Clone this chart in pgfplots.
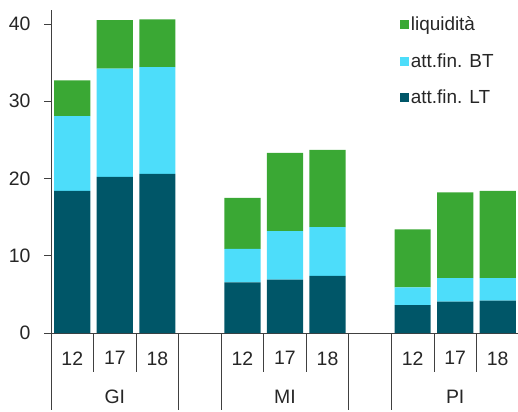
\documentclass[border=0pt]{standalone}
\usepackage{pgfplots}
\pgfplotsset{compat=1.18}
\usepackage{fontspec}
\setmainfont{Liberation Sans}
\definecolor{cLT}{RGB}{0,86,104}
\definecolor{cBT}{RGB}{77,221,250}
\definecolor{cLQ}{RGB}{58,168,52}
\begin{document}
\begin{tikzpicture}
\begin{axis}[
  name=ax,
  scale only axis,
  width=468bp, height=323bp,
  xmin=-0.5, xmax=10.5,
  ymin=0, ymax=41.8,
  ybar stacked,
  bar width=0.85,
  axis x line=bottom, axis y line=left,
  axis line style={-, black!75, line width=0.8pt},
  ytick={0,10,20,30,40},
  tick align=outside,
  major tick length=7bp,
  ytick style={black!75, line width=0.8pt},
  xtick={0,1,2,4,5,6,8,9,10},
  xticklabels={12,17,18,12,17,18,12,17,18},
  xtick style={draw=none},
  ticklabel style={font=\fontsize{19.5}{21}\selectfont, text=black!85},
  xticklabel style={yshift=-8bp},
  yticklabel style={xshift=-10bp},
  /pgf/number format/assume math mode=true,
  reverse legend,
  legend style={at={(0.745,0.985)}, anchor=north west, draw=none, fill=none,
    font=\fontsize{19}{21}\selectfont, text=black!85,
    row sep=17bp, inner sep=0pt},
  legend cell align=left,
  legend image code/.code={\fill[#1] (0bp,-4.5bp) rectangle (9bp,4.5bp);},
  clip=false,
]
\addplot[fill=cLT, draw=none] coordinates {(0,18.4) (1,20.2) (2,20.6) (4,6.55) (5,6.9) (6,7.4) (8,3.6) (9,4.05) (10,4.2)};
\addplot[fill=cBT, draw=none] coordinates {(0,9.65) (1,14.0) (2,13.8) (4,4.35) (5,6.3) (6,6.3) (8,2.3) (9,3.05) (10,2.9)};
\addplot[fill=cLQ, draw=none] coordinates {(0,4.65) (1,6.3) (2,6.2) (4,6.6) (5,10.1) (6,10.0) (8,7.5) (9,11.1) (10,11.3)};
\legend{att.fin. LT, att.fin. BT, liquidità}
\foreach \x in {0.5,1.5,4.5,5.5,8.5,9.5} {
  \edef\tmp{\noexpand\draw[black!75, line width=0.8pt] (axis cs:\x,0) -- ++(0bp,-39bp);}\tmp
}
\foreach \x in {-0.5,2.5,3.5,6.5,7.5} {
  \edef\tmp{\noexpand\draw[black!75, line width=0.8pt] (axis cs:\x,0) -- ++(0bp,-77bp);}\tmp
}
\node[font=\fontsize{19.5}{21}\selectfont, text=black!85] at (axis cs:1,0) [yshift=-64bp] {GI};
\node[font=\fontsize{19.5}{21}\selectfont, text=black!85] at (axis cs:5,0) [yshift=-64bp] {MI};
\node[font=\fontsize{19.5}{21}\selectfont, text=black!85] at (axis cs:9,0) [yshift=-64bp] {PI};
\end{axis}
\pgfresetboundingbox
\path (ax.south west) ++(-51bp,-79bp) rectangle ++(518bp,412bp);
\end{tikzpicture}
\end{document}
